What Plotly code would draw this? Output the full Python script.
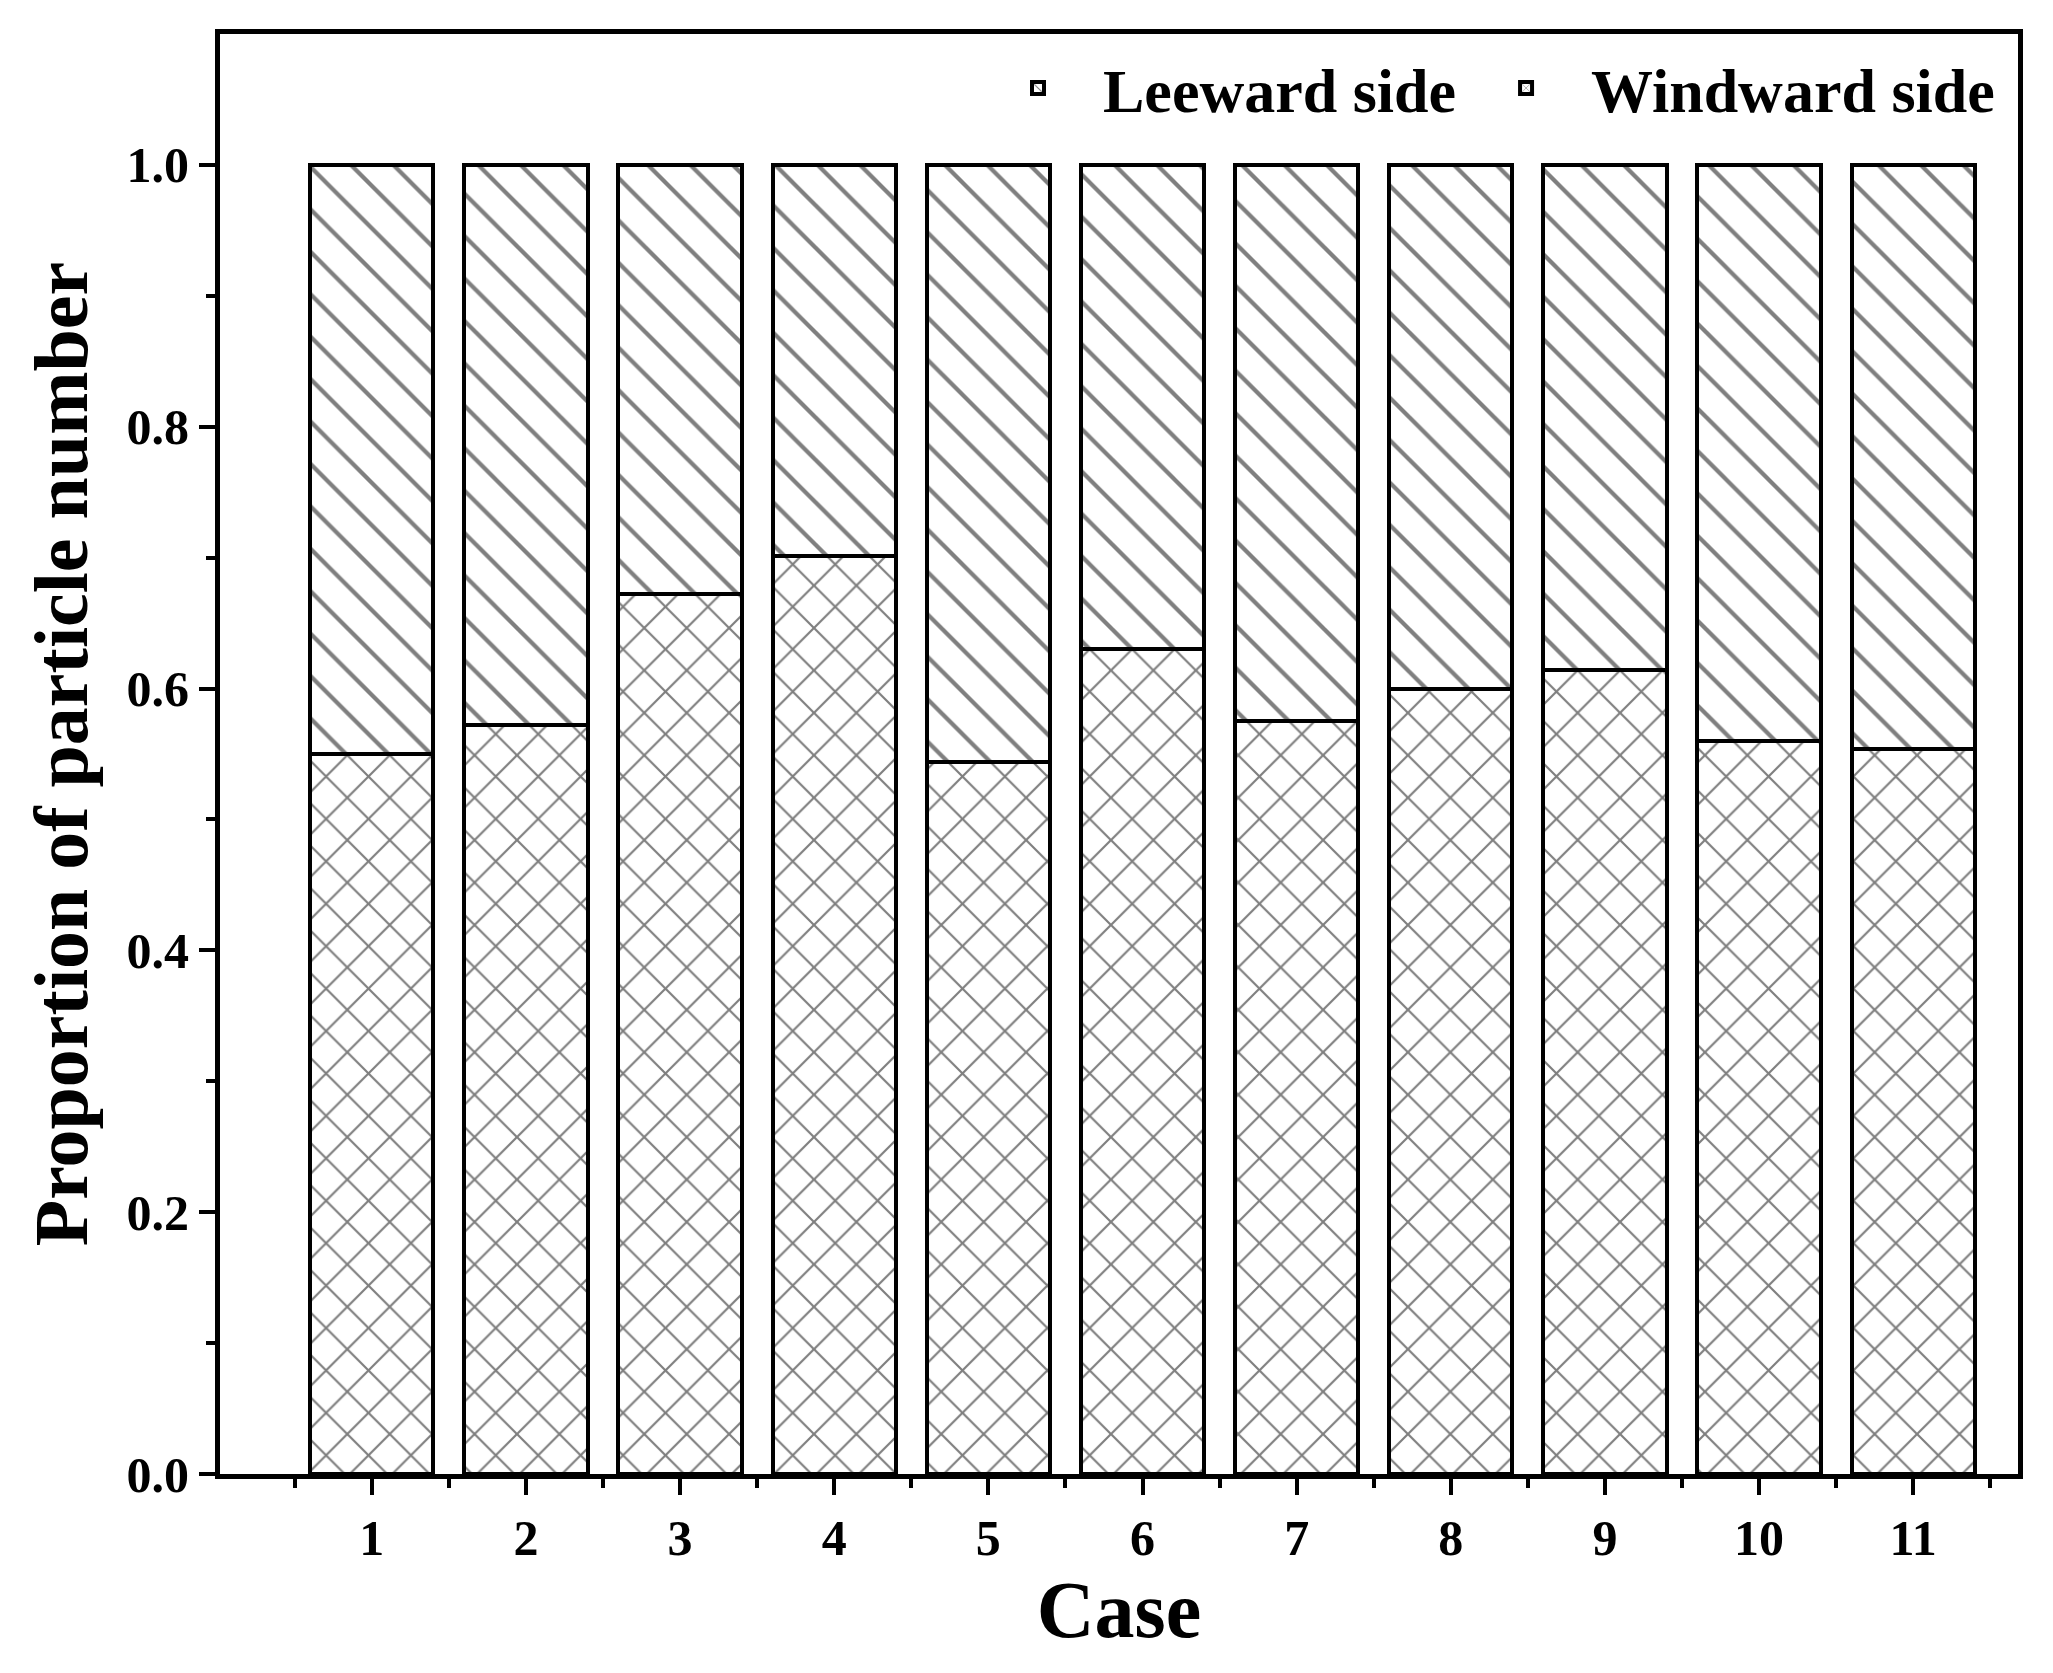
import plotly.graph_objects as go

cases = [1, 2, 3, 4, 5, 6, 7, 8, 9, 10, 11]
windward = [0.550, 0.572, 0.672, 0.701, 0.544, 0.630, 0.575, 0.600, 0.614, 0.560, 0.554]
leeward = [1 - w for w in windward]
tick_labels = [str(c) for c in cases]

font = "Liberation Serif"
fig = go.Figure()
fig.add_bar(x=cases, y=windward, name="<b>Windward side</b>",
            marker=dict(color="white", line=dict(color="black", width=4),
                        pattern=dict(shape="x", fgcolor="black", bgcolor="white", size=30, solidity=0.14)))
fig.add_bar(x=cases, y=leeward, name="<b>Leeward side</b>",
            marker=dict(color="white", line=dict(color="black", width=4),
                        pattern=dict(shape="\\", fgcolor="black", bgcolor="white", size=30, solidity=0.14)))
fig.update_layout(
    barmode="stack", bargap=0.2, width=2053, height=1673,
    paper_bgcolor="white", plot_bgcolor="white",
    margin=dict(l=212, r=43, t=26, b=207),
    font=dict(family=font, color="black", size=50),
    legend=dict(orientation="h", x=0.99, xanchor="right", y=0.995, yanchor="top",
                traceorder="reversed", font=dict(size=62, family=font),
                bgcolor="rgba(0,0,0,0)", itemwidth=120),
)
fig.update_xaxes(range=[0.015, 11.68], tickvals=cases, ticktext=[f"<b>{t}</b>" for t in tick_labels],
                 showline=True, linecolor="black", linewidth=5, mirror=True,
                 ticks="outside", ticklen=16, tickwidth=4, tickcolor="black",
                 minor=dict(tickvals=[c + 0.5 for c in [0] + cases], ticks="outside", ticklen=9, tickwidth=4, tickcolor="black"),
                 title=dict(text="<b>Case</b>", font=dict(size=80, family=font), standoff=15),
                 showgrid=False, tickfont=dict(size=50))
fig.update_yaxes(range=[0, 1.1], tickvals=[0, 0.2, 0.4, 0.6, 0.8, 1.0],
                 ticktext=["<b>0.0</b>", "<b>0.2</b>", "<b>0.4</b>", "<b>0.6</b>", "<b>0.8</b>", "<b>1.0</b>"],
                 showline=True, linecolor="black", linewidth=5, mirror=True,
                 ticks="outside", ticklen=16, tickwidth=4, tickcolor="black",
                 minor=dict(tickvals=[0.1, 0.3, 0.5, 0.7, 0.9], ticks="outside", ticklen=9, tickwidth=4, tickcolor="black"),
                 title=dict(text="<b>Proportion of particle number</b>", font=dict(size=76, family=font), standoff=15),
                 showgrid=False, zeroline=False, tickfont=dict(size=50))
fig.write_html("out.html")
